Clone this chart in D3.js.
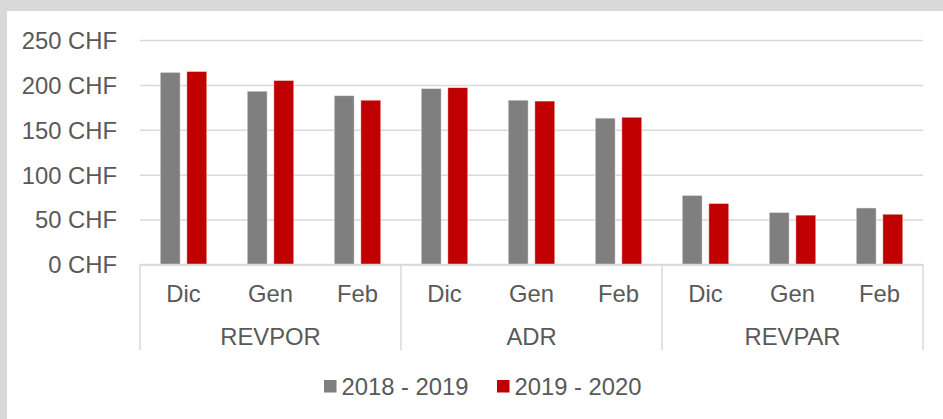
<!DOCTYPE html>
<html>
<head>
<meta charset="utf-8">
<script src="https://cdn.jsdelivr.net/npm/d3@7"></script>
<style>
  body { margin: 0; background: #d9d9d9; }
  svg { display: block; font-family: "Liberation Sans", Arial, sans-serif; }
</style>
</head>
<body>
<svg width="943" height="419"></svg>
<script>
var groups = ["REVPOR", "ADR", "REVPAR"];
var months = ["Dic", "Gen", "Feb"];
var series = ["2018 - 2019", "2019 - 2020"];
var colors = ["#7f7f7f", "#c00000"];
var values2018 = [214, 193, 188, 196, 183, 163, 77, 58, 63];
var values2019 = [215, 205, 183, 197, 182, 164, 68, 55, 56];
var yTicks = [0, 50, 100, 150, 200, 250];

var svg = d3.select("svg");
var fontSize = "23.8px";

svg.append("rect")
    .attr("x", 7).attr("y", 11)
    .attr("width", 936).attr("height", 408)
    .attr("fill", "#fff");

var plotLeft = 140, plotRight = 923, plotTop = 40, plotBottom = 264.5;

var data = [];
groups.forEach(function (g, gi) {
    months.forEach(function (m, mi) {
        var i = gi * months.length + mi;
        data.push({group: g, month: m, vals: [values2018[i], values2019[i]]});
    });
});

var x0 = d3.scaleBand().domain(groups).range([plotLeft, plotRight]);
var x1 = d3.scaleBand().domain(months).range([0, x0.bandwidth()]);
var x2 = d3.scaleBand().domain(series).range([0, x1.bandwidth()])
    .paddingInner(0.25).paddingOuter(0.76);
var y = d3.scaleLinear().domain([0, 250]).range([plotBottom, plotTop]);

// gridlines + y labels
var yAxis = svg.append("g")
    .attr("transform", "translate(" + plotLeft + ",0)")
    .call(d3.axisLeft(y).tickValues(yTicks)
        .tickSize(-(plotRight - plotLeft)).tickPadding(23)
        .tickFormat(function (d) { return d + " CHF"; }));
yAxis.select(".domain").remove();
yAxis.selectAll("line").attr("stroke", "#d9d9d9").attr("stroke-width", 1.5);
yAxis.selectAll("text")
    .attr("fill", "#595959")
    .style("font-size", fontSize)
    .attr("dy", "0.35em");

// bars
var cat = svg.selectAll(".cat")
    .data(data)
    .enter().append("g")
    .attr("class", "cat")
    .attr("transform", function (d) {
        return "translate(" + (x0(d.group) + x1(d.month)) + ",0)";
    });

cat.selectAll("rect")
    .data(function (d) {
        return d.vals.map(function (v, i) { return {s: series[i], v: v, c: colors[i]}; });
    })
    .enter().append("rect")
    .attr("x", function (d) { return x2(d.s); })
    .attr("width", x2.bandwidth())
    .attr("y", function (d) { return y(d.v); })
    .attr("height", function (d) { return plotBottom - y(d.v); })
    .attr("fill", function (d) { return d.c; })
    .attr("stroke", "#fff")
    .attr("stroke-opacity", 0.6)
    .attr("stroke-width", 0.8);

// x axis line and separators
svg.append("line")
    .attr("x1", plotLeft).attr("x2", plotRight)
    .attr("y1", plotBottom).attr("y2", plotBottom)
    .attr("stroke", "#d9d9d9").attr("stroke-width", 1.5);

var seps = groups.map(function (g) { return x0(g); }).concat([plotRight]);
svg.selectAll(".sep")
    .data(seps)
    .enter().append("line")
    .attr("class", "sep")
    .attr("x1", function (d) { return d; }).attr("x2", function (d) { return d; })
    .attr("y1", plotBottom).attr("y2", 350)
    .attr("stroke", "#d9d9d9").attr("stroke-width", 1.5);

// month labels
svg.selectAll(".mlab")
    .data(data)
    .enter().append("text")
    .attr("class", "mlab")
    .attr("x", function (d) { return x0(d.group) + x1(d.month) + x1.bandwidth() / 2; })
    .attr("y", 301.5)
    .attr("text-anchor", "middle")
    .attr("fill", "#595959")
    .style("font-size", fontSize)
    .text(function (d) { return d.month; });

// group labels
svg.selectAll(".glab")
    .data(groups)
    .enter().append("text")
    .attr("class", "glab")
    .attr("x", function (d) { return x0(d) + x0.bandwidth() / 2; })
    .attr("y", 345)
    .attr("text-anchor", "middle")
    .attr("fill", "#595959")
    .style("font-size", fontSize)
    .text(function (d) { return d; });

// legend
var legendX = [324, 497];
var leg = svg.selectAll(".leg")
    .data(series)
    .enter().append("g")
    .attr("class", "leg")
    .attr("transform", function (d, i) { return "translate(" + legendX[i] + ",380)"; });
leg.append("rect")
    .attr("width", 12.5).attr("height", 12.5)
    .attr("fill", function (d, i) { return colors[i]; });
leg.append("text")
    .attr("x", 17.5).attr("y", 14.5)
    .attr("fill", "#595959")
    .style("font-size", fontSize)
    .text(function (d) { return d; });
</script>
</body>
</html>
